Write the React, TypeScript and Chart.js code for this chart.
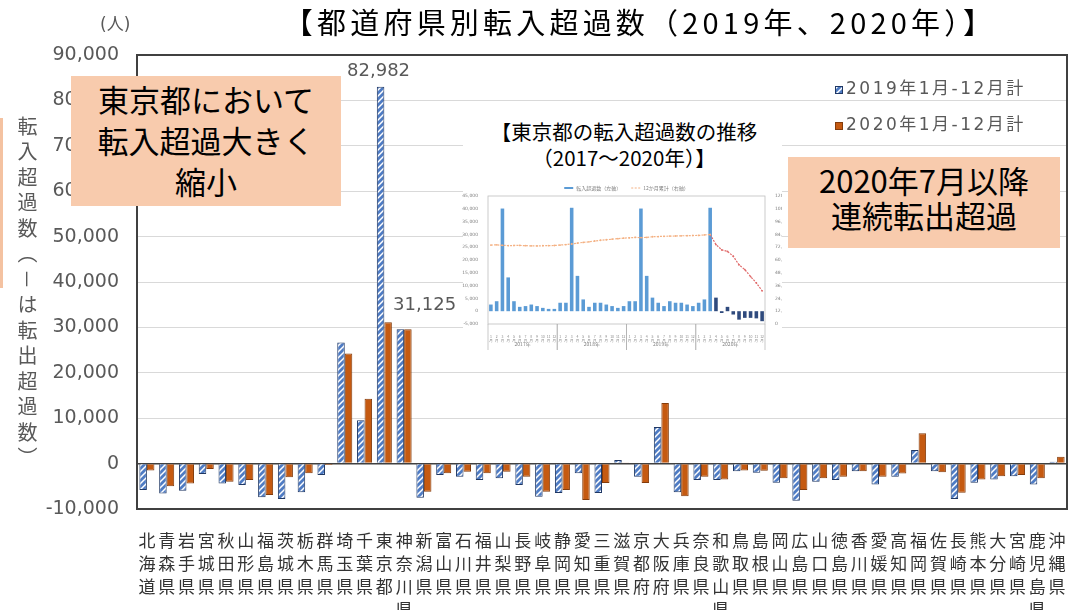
import React, { useEffect, useRef } from 'react';
import { Chart, registerables } from 'chart.js';

Chart.register(...registerables);

// ---------- main chart data ----------
const prefectures = [
  '北海道', '青森県', '岩手県', '宮城県', '秋田県', '山形県', '福島県', '茨城県', '栃木県', '群馬県',
  '埼玉県', '千葉県', '東京都', '神奈川県', '新潟県', '富山県', '石川県', '福井県', '山梨県', '長野県',
  '岐阜県', '静岡県', '愛知県', '三重県', '滋賀県', '京都府', '大阪府', '兵庫県', '奈良県', '和歌山県',
  '鳥取県', '島根県', '岡山県', '広島県', '山口県', '徳島県', '香川県', '愛媛県', '高知県', '福岡県',
  '佐賀県', '長崎県', '熊本県', '大分県', '宮崎県', '鹿児島県', '沖縄県',
];

const net2019 = [
  -5800, -6600, -6000, -2300, -4400, -4700, -7400, -7800, -6300, -2500,
  26654, 9538, 82982, 29609, -7500, -2500, -2900, -3600, -3200, -4700,
  -7300, -6500, -2100, -6500, 800, -2900, 8064, -6300, -3600, -3600,
  -1700, -2000, -4200, -8200, -4000, -3600, -1700, -4600, -2900, 3000,
  -1700, -7800, -4200, -3500, -2800, -4600, 400,
];

const net2020 = [
  -1500, -5000, -4400, -1200, -4000, -3600, -6900, -3000, -2100, -300,
  24271, 14273, 31125, 29574, -6200, -2100, -1800, -2100, -1800, -2900,
  -6200, -5800, -8000, -4300, 150, -4300, 13356, -7200, -2900, -3500,
  -1500, -1600, -3200, -5800, -3200, -2900, -1700, -2900, -2200, 6700,
  -1900, -6400, -3500, -2800, -2500, -3200, 1500,
];

const seriesLabels = ['2019年1月-12月計', '2020年1月-12月計'];
const yMin = -10000;
const yMax = 90000;
const yStep = 10000;
const highlightPref = '東京都';

// ---------- inset chart data ----------
const insetYears = ['2017年', '2018年', '2019年', '2020年'];
const insetMonthNames = ['1', '2', '3', '4', '5', '6', '7', '8', '9', '10', '11', '12'];
const insetMonthly = [
  2600, 3900, 40100, 13200, 3900, 1700, 2000, 2600, 2000, 1300, 900, 900,
  3300, 3300, 40400, 13800, 4600, 1700, 3300, 3300, 2600, 2000, 1300, 2000,
  3900, 3900, 40100, 13800, 5300, 3300, 2000, 3900, 3300, 3300, 2600, 2000,
  3300, 4600, 40400, 5300, -700, 1700, -1300, -3300, -2600, -2600, -2800, -3900,
];
const insetCumulative = [
  74000, 74200, 73800, 73500, 73600, 73700, 73400, 73300, 73200, 73400, 73500, 73600,
  74000, 74500, 75000, 75800, 76500, 77000, 77800, 78500, 79000, 79500, 80000, 80500,
  80800, 81200, 81000, 81200, 81800, 82000, 82200, 82400, 82500, 82700, 82800, 82982,
  83000, 83500, 83900, 74500, 69500, 68000, 63500, 55500, 51000, 44500, 38500, 31125,
];
const insetSeriesLabels = ['転入超過数（左軸）', '12か月累計（右軸）'];

const fmt = (v: number) => Number(v).toLocaleString('en-US');

function makeHatch(): CanvasPattern | string {
  const c = document.createElement('canvas');
  c.width = 6;
  c.height = 6;
  const g = c.getContext('2d');
  if (!g) return '#4472C4';
  g.fillStyle = '#4F7CC4';
  g.fillRect(0, 0, 6, 6);
  g.strokeStyle = '#FFFFFF';
  g.lineWidth = 1.5;
  g.beginPath();
  g.moveTo(-1, 7);
  g.lineTo(7, -1);
  g.moveTo(-1, 1);
  g.lineTo(1, -1);
  g.moveTo(5, 7);
  g.lineTo(7, 5);
  g.stroke();
  return g.createPattern(c, 'repeat') || '#4472C4';
}

export default function App() {
  const mainRef = useRef<HTMLCanvasElement | null>(null);
  const insetRef = useRef<HTMLCanvasElement | null>(null);

  useEffect(() => {
    if (!mainRef.current || !insetRef.current) return;
    const hatch = makeHatch();
    const orange = '#C55A11';
    const hi = prefectures.indexOf(highlightPref);

    const mainOverlay = {
      id: 'mainOverlay',
      afterDraw(chart: any) {
        const { ctx, chartArea: a } = chart;
        ctx.save();
        // frame
        ctx.strokeStyle = '#404040';
        ctx.lineWidth = 2;
        ctx.strokeRect(a.left, a.top, a.right - a.left, a.bottom - a.top);
        // data labels for Tokyo
        const b0 = chart.getDatasetMeta(0).data[hi];
        const b1 = chart.getDatasetMeta(1).data[hi];
        ctx.font = '18px "DejaVu Sans"';
        ctx.fillStyle = '#595959';
        ctx.textBaseline = 'middle';
        ctx.textAlign = 'center';
        ctx.fillText(fmt(net2019[hi]), b0.x - 2, b0.y - 16);
        ctx.textAlign = 'left';
        ctx.fillText(fmt(net2020[hi]), b1.x + 5, b1.y - 17);
        // legend
        const fills = [hatch, orange];
        const borders = ['#203864', '#843C0C'];
        const rows = [90, 126];
        ctx.font = '17px "DejaVu Sans", "Noto Sans CJK JP"';
        (ctx as any).letterSpacing = '2.5px';
        for (let i = 0; i < 2; i++) {
          ctx.fillStyle = fills[i] as any;
          ctx.fillRect(835, rows[i] - 4, 8, 8);
          ctx.strokeStyle = borders[i];
          ctx.lineWidth = 1;
          ctx.strokeRect(835.5, rows[i] - 3.5, 7, 7);
          ctx.fillStyle = '#595959';
          ctx.textAlign = 'left';
          ctx.fillText(seriesLabels[i], 846, rows[i]);
        }
        ctx.restore();
      },
    };

    const main = new Chart(mainRef.current, {
      type: 'bar',
      data: {
        labels: prefectures.map((p) => p.split('')),
        datasets: [
          {
            label: seriesLabels[0],
            data: net2019,
            backgroundColor: hatch as any,
            borderColor: '#203864',
            borderWidth: 1,
            categoryPercentage: 0.76,
            barPercentage: 1,
          },
          {
            label: seriesLabels[1],
            data: net2020,
            backgroundColor: orange,
            borderColor: '#843C0C',
            borderWidth: 1,
            categoryPercentage: 0.76,
            barPercentage: 1,
          },
        ],
      },
      options: {
        responsive: false,
        animation: false,
        devicePixelRatio: 1,
        layout: { padding: { left: 0, right: 6, top: 55, bottom: 0 } },
        plugins: {
          legend: { display: false },
          title: { display: false },
          tooltip: { enabled: false },
        },
        scales: {
          x: {
            grid: { display: false },
            border: { display: false },
            ticks: {
              autoSkip: false,
              maxRotation: 0,
              minRotation: 0,
              padding: 12,
              color: '#333333',
              font: { family: '"Noto Sans CJK JP"', size: 17, lineHeight: '23px' },
            },
            afterFit: (s: any) => {
              s.height = 101;
              s.paddingLeft = 0;
              s.paddingRight = 0;
            },
          },
          y: {
            min: yMin,
            max: yMax,
            grid: {
              drawTicks: false,
              color: (c: any) => (c.tick && c.tick.value === 0 ? '#404040' : '#D9D9D9'),
              lineWidth: (c: any) => (c.tick && c.tick.value === 0 ? 1.5 : 1),
            },
            border: { display: false },
            ticks: {
              stepSize: yStep,
              padding: 18,
              color: '#595959',
              font: { family: '"DejaVu Sans"', size: 19 },
              callback: (v: any) => fmt(Number(v)),
            },
            afterFit: (s: any) => {
              s.width = 137;
              s.paddingTop = 0;
              s.paddingBottom = 0;
            },
          },
        },
      },
      plugins: [mainOverlay],
    });

    // ---------- inset ----------
    const insetLabels = insetYears.flatMap(() => insetMonthNames.map((m) => [m, '月']));
    const insetOverlay = {
      id: 'insetOverlay',
      afterDraw(chart: any) {
        const { ctx, chartArea: a, scales } = chart;
        const x = scales.x;
        ctx.save();
        ctx.strokeStyle = '#BFBFBF';
        ctx.lineWidth = 0.8;
        ctx.strokeRect(a.left, a.top, a.right - a.left, a.bottom - a.top);
        const half = (x.getPixelForValue(1) - x.getPixelForValue(0)) / 2;
        ctx.fillStyle = '#7F7F7F';
        ctx.font = '5px "Noto Sans CJK JP"';
        ctx.textAlign = 'center';
        ctx.textBaseline = 'middle';
        ctx.strokeStyle = '#A6A6A6';
        ctx.lineWidth = 0.6;
        for (let k = 0; k < insetYears.length; k++) {
          const l = x.getPixelForValue(k * 12) - half;
          const r = x.getPixelForValue(k * 12 + 11) + half;
          ctx.beginPath();
          ctx.moveTo(l, a.bottom);
          ctx.lineTo(l, a.bottom + 26);
          ctx.moveTo(r, a.bottom);
          ctx.lineTo(r, a.bottom + 26);
          ctx.stroke();
          ctx.fillText(insetYears[k], (l + r) / 2, a.bottom + 20);
        }
        // legend
        ctx.font = '5px "Noto Sans CJK JP"';
        const w0 = ctx.measureText(insetSeriesLabels[0]).width;
        const w1 = ctx.measureText(insetSeriesLabels[1]).width;
        const total = 12 + w0 + 10 + 12 + w1;
        let lx = (a.left + a.right) / 2 - total / 2;
        const ly = a.top - 8;
        ctx.strokeStyle = '#5B9BD5';
        ctx.lineWidth = 2;
        ctx.beginPath();
        ctx.moveTo(lx, ly);
        ctx.lineTo(lx + 9, ly);
        ctx.stroke();
        ctx.textAlign = 'left';
        ctx.fillText(insetSeriesLabels[0], lx + 12, ly);
        lx += 12 + w0 + 10;
        ctx.strokeStyle = '#F4B183';
        ctx.lineWidth = 1;
        ctx.setLineDash([2, 1.5]);
        ctx.beginPath();
        ctx.moveTo(lx, ly);
        ctx.lineTo(lx + 9, ly);
        ctx.stroke();
        ctx.setLineDash([]);
        ctx.fillText(insetSeriesLabels[1], lx + 12, ly);
        ctx.restore();
      },
    };

    const inset = new Chart(insetRef.current, {
      data: {
        labels: insetLabels,
        datasets: [
          {
            type: 'line',
            label: insetSeriesLabels[1],
            data: insetCumulative,
            yAxisID: 'yR',
            borderColor: '#F4B183',
            borderWidth: 1.2,
            borderDash: [2, 1.2],
            pointRadius: 0.9,
            pointBackgroundColor: (c: any) => (c.dataIndex >= 39 ? '#E06A6A' : '#F4B183'),
            pointBorderWidth: 0,
            segment: {
              borderColor: (c: any) => (c.p0DataIndex >= 38 ? '#E06A6A' : '#F4B183'),
            },
            order: 1,
          } as any,
          {
            type: 'bar',
            label: insetSeriesLabels[0],
            data: insetMonthly,
            yAxisID: 'yL',
            backgroundColor: (c: any) => (c.dataIndex >= 39 ? '#2F4A7D' : '#5B9BD5'),
            categoryPercentage: 0.62,
            barPercentage: 1,
            order: 2,
          } as any,
        ],
      },
      options: {
        responsive: false,
        animation: false,
        devicePixelRatio: 1,
        layout: { padding: { left: 0, right: 0, top: 16, bottom: 0 } },
        plugins: { legend: { display: false }, tooltip: { enabled: false } },
        scales: {
          x: {
            grid: { display: false },
            border: { display: false },
            ticks: {
              autoSkip: false,
              maxRotation: 0,
              minRotation: 0,
              padding: 2,
              color: '#8C8C8C',
              font: { family: '"Noto Sans CJK JP"', size: 3.5, lineHeight: '4.5px' },
            },
            afterFit: (s: any) => {
              s.height = 36;
              s.paddingLeft = 0;
              s.paddingRight = 0;
            },
          },
          yL: {
            position: 'left',
            min: -5000,
            max: 45000,
            grid: { display: false },
            border: { display: false },
            ticks: {
              stepSize: 5000,
              padding: 2,
              color: '#7F7F7F',
              font: { family: '"DejaVu Sans"', size: 4.5 },
              callback: (v: any) => fmt(Number(v)),
            },
            afterFit: (s: any) => {
              s.width = 26;
              s.paddingTop = 0;
              s.paddingBottom = 0;
            },
          },
          yR: {
            position: 'right',
            min: 0,
            max: 120000,
            grid: { display: false },
            border: { display: false },
            ticks: {
              stepSize: 12000,
              padding: 2,
              color: '#7F7F7F',
              font: { family: '"DejaVu Sans"', size: 4.5 },
              callback: (v: any) => fmt(Number(v)),
            },
            afterFit: (s: any) => {
              s.width = 17;
              s.paddingTop = 0;
              s.paddingBottom = 0;
            },
          },
        },
      },
      plugins: [insetOverlay],
    } as any);

    return () => {
      main.destroy();
      inset.destroy();
    };
  }, []);

  const boxStyle: React.CSSProperties = {
    position: 'absolute',
    background: '#F8CBAD',
    color: '#000000',
    fontFamily: '"Noto Sans CJK JP"',
    fontSize: 31,
    textAlign: 'center',
    whiteSpace: 'nowrap',
    boxSizing: 'border-box',
  };

  return (
    <div
      style={{
        position: 'fixed',
        left: 0,
        top: 0,
        width: 1073,
        height: 610,
        background: '#FFFFFF',
        overflow: 'hidden',
      }}
    >
      <canvas ref={mainRef} width={1073} height={610} style={{ position: 'absolute', left: 0, top: 0 }} />

      {/* title */}
      <div
        style={{
          position: 'absolute',
          left: 640,
          top: 6,
          transform: 'translateX(-50%)',
          fontFamily: '"Noto Sans CJK JP"',
          fontSize: 29,
          lineHeight: '31px',
          letterSpacing: '4.2px',
          whiteSpace: 'nowrap',
          color: '#000000',
        }}
      >
        【都道府県別転入超過数（2019年、2020年）】
      </div>

      {/* unit */}
      <div
        style={{
          position: 'absolute',
          left: 100,
          top: 14,
          fontFamily: '"DejaVu Sans", "Noto Sans CJK JP"',
          fontSize: 17,
          lineHeight: '20px',
          color: '#595959',
          whiteSpace: 'nowrap',
        }}
      >
        (人)
      </div>

      {/* y axis title */}
      <div
        style={{
          position: 'absolute',
          left: 15,
          top: 116,
          writingMode: 'vertical-rl',
          fontFamily: '"Noto Sans CJK JP"',
          fontSize: 20,
          lineHeight: '24px',
          letterSpacing: '5.5px',
          color: '#595959',
          whiteSpace: 'nowrap',
        }}
      >
        転入超過数（－は転出超過数）
      </div>

      {/* left stripe */}
      <div style={{ position: 'absolute', left: 0, top: 118, width: 3, height: 170, background: '#F4C2A1' }} />

      {/* annotation box 1 */}
      <div style={{ ...boxStyle, left: 71, top: 76, width: 270, height: 130, lineHeight: '41px', paddingTop: 2 }}>
        東京都において
        <br />
        転入超過大きく
        <br />
        縮小
      </div>

      {/* annotation box 2 */}
      <div style={{ ...boxStyle, left: 788, top: 157, width: 272, height: 91, lineHeight: '35px', paddingTop: 5 }}>
        2020年7月以降
        <br />
        連続転出超過
      </div>

      {/* inset */}
      <div style={{ position: 'absolute', left: 463, top: 116, width: 319, height: 244, background: '#FFFFFF' }} />
      <div
        style={{
          position: 'absolute',
          left: 624,
          top: 118,
          transform: 'translateX(-50%)',
          fontFamily: '"Noto Sans CJK JP"',
          fontSize: 20.5,
          lineHeight: '26px',
          textAlign: 'center',
          whiteSpace: 'nowrap',
          color: '#000000',
        }}
      >
        【東京都の転入超過数の推移
        <br />
        （2017～2020年）】
      </div>
      <canvas ref={insetRef} width={320} height={180} style={{ position: 'absolute', left: 462, top: 180 }} />
    </div>
  );
}
